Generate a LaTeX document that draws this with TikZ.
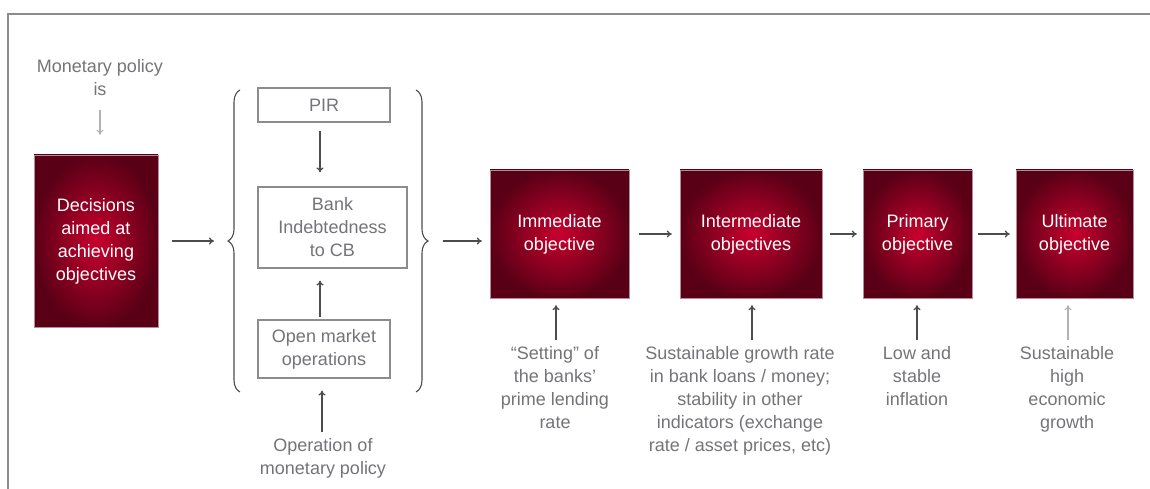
\documentclass[tikz,border=0pt]{standalone}
\usepackage{fontspec}
\setmainfont{Liberation Sans}
\usepackage{tikz}
\usetikzlibrary{positioning,arrows.meta,decorations.pathreplacing,calc}
\definecolor{wine}{HTML}{5A0016}
\definecolor{crimson}{HTML}{C8002E}
\definecolor{notegray}{HTML}{747478}
\definecolor{rimgray}{HTML}{8C8C8C}
\newcommand{\diafont}{\fontsize{18}{23}\selectfont}
\tikzset{
  obj/.style={rectangle,draw=wine!45,inner color=crimson,outer color=wine,
    text=white,align=center,font=\diafont,inner sep=2pt},
  inst/.style={rectangle,draw=rimgray,line width=1.2pt,fill=white,
    text=notegray,align=center,font=\diafont,inner sep=2pt},
  note/.style={align=center,text=notegray,font=\diafont,inner sep=2pt},
  fl/.style={-{To[length=5pt,width=7pt]},draw=black!70,line width=1.3pt},
  lfl/.style={-{To[length=5pt,width=7pt]},draw=black!30,line width=1.1pt},
  brc/.style={decorate,decoration={brace,amplitude=12pt},draw=black!70,line width=1.1pt},
}

\begin{document}
\begin{tikzpicture}[x=1pt,y=-1pt]
  \useasboundingbox (0,0) rectangle (1150,489);
  \draw[rimgray,line width=2pt] (8,489) -- (8,14) -- (1150,14);

  % starting point
  \node[note,anchor=north] (mp) at (100,57) {Monetary policy\\is};
  \node[obj,minimum width=124pt,minimum height=172pt] (dec) at (96,241) {Decisions\\aimed at\\achieving\\objectives};
  \draw[lfl,shorten <=12pt,shorten >=20pt] (mp.south) -- (mp.south |- dec.north);

  % instruments inside the braces
  \node[inst,minimum width=132pt,minimum height=34pt] (pir) at (324,105) {PIR};
  \node[inst,minimum width=149pt,minimum height=81pt] (bank) at (332.5,227.5) {Bank\\Indebtedness\\to CB};
  \node[inst,minimum width=132pt,minimum height=58pt] (omo) at (324,349) {Open market\\operations};
  \node[note,anchor=north] (opn) at (323,436) {Operation of\\monetary policy};
  \draw[fl,shorten <=8pt,shorten >=14pt] ([xshift=-4pt]pir.south) -- ([xshift=-4pt]pir.south |- bank.north);
  \draw[fl,shorten <=2pt,shorten >=12pt] ([xshift=-4pt]omo.north) -- ([xshift=-4pt]omo.north |- bank.south);
  \draw[fl,shorten <=4pt,shorten >=12pt] ([xshift=-1pt]opn.north) -- ([xshift=-1pt]opn.north |- omo.south);

  \draw[brc] (240,392) -- (240,90);
  \draw[brc] (416,90) -- (416,392);
  \coordinate (lb) at (228,241);
  \coordinate (rb) at (428,241);
  \draw[fl,shorten <=14pt,shorten >=14pt] (dec.east |- lb) -- (lb);

  % chain of objectives
  \node[obj,minimum width=139pt,minimum height=128pt] (imm) at (559.5,234) {Immediate\\objective};
  \node[obj,minimum width=142pt,minimum height=128pt] (intm) at (751,234) {Intermediate\\objectives};
  \node[obj,minimum width=109pt,minimum height=128pt] (prim) at (917.5,234) {Primary\\objective};
  \node[obj,minimum width=117pt,minimum height=128pt] (ult) at (1074.5,234) {Ultimate\\objective};
  \draw[fl,shorten <=15pt,shorten >=8pt] (rb) -- (rb -| imm.west);
  \draw[fl,shorten <=10pt,shorten >=8pt] (imm) -- (intm);
  \draw[fl,shorten <=8pt,shorten >=6pt] (intm) -- (prim);
  \draw[fl,shorten <=6pt,shorten >=6pt] (prim) -- (ult);

  % what each objective stands for
  \node[note,anchor=north] (setr) at (555,344) {``Setting'' of\\the banks'\\prime lending\\rate};
  \node[note,anchor=north] (sgr) at (740,344) {Sustainable growth rate\\in bank loans / money;\\stability in other\\indicators (exchange\\rate / asset prices, etc)};
  \node[note,anchor=north] (infl) at (917,344) {Low and\\stable\\inflation};
  \node[note,anchor=north] (grow) at (1067,344) {Sustainable\\high\\economic\\growth};
  \draw[fl,shorten <=4pt,shorten >=7pt] ([xshift=1pt]setr.north) -- ([xshift=1pt]setr.north |- imm.south);
  \draw[fl,shorten <=4pt,shorten >=7pt] ([xshift=12pt]sgr.north) -- ([xshift=12pt]sgr.north |- intm.south);
  \draw[fl,shorten <=4pt,shorten >=7pt] (infl.north) -- (infl.north |- prim.south);
  \draw[lfl,shorten <=4pt,shorten >=7pt] ([xshift=1pt]grow.north) -- ([xshift=1pt]grow.north |- ult.south);
\end{tikzpicture}
\end{document}
